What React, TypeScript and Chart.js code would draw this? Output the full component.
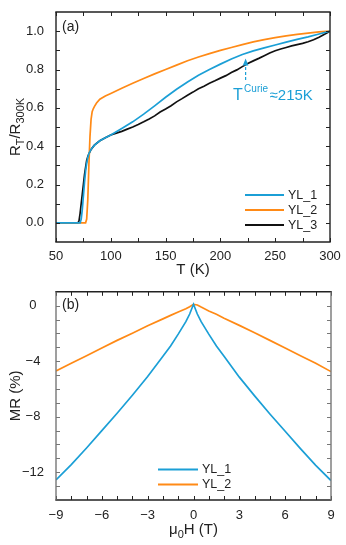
import React, { useEffect, useRef } from 'react';
import { Chart, registerables } from 'chart.js';

Chart.register(...registerables);

const FONT = '"Liberation Sans", Arial, Helvetica, sans-serif';
const BLUE = '#1b9fd6';
const ORANGE = '#ff8a16';
const BLACK = '#111111';

// ---------- panel (a): R_T / R_300K vs T ----------
const tempYL1 = [50, 60, 70, 71, 72, 73, 74, 75, 76, 77, 78, 79, 80, 81, 82, 83, 84, 85, 87, 90, 95, 100,
  110, 120, 130, 140, 150, 160, 170, 180, 190, 200, 210, 220, 230, 240, 250, 260, 270, 280, 290, 300];
const ratioYL1 = [0, 0, 0, 0, 0.0, 0.02, 0.07, 0.14, 0.21, 0.27, 0.31, 0.34, 0.36, 0.373, 0.383, 0.391, 0.398, 0.404, 0.415, 0.428, 0.444, 0.458,
  0.492, 0.527, 0.567, 0.61, 0.655, 0.697, 0.735, 0.77, 0.8, 0.828, 0.855, 0.878, 0.897, 0.913, 0.928, 0.943, 0.957, 0.97, 0.985, 1.0];

const tempYL2 = [50, 60, 70, 75, 77, 78, 79, 80, 81, 82, 83, 84, 85, 87, 90, 95, 100,
  110, 120, 130, 140, 150, 160, 170, 180, 190, 200, 210, 220, 230, 240, 250, 260, 270, 280, 290, 300];
const ratioYL2 = [0, 0, 0, 0, 0, 0.02, 0.12, 0.3, 0.45, 0.54, 0.58, 0.595, 0.606, 0.625, 0.645, 0.662, 0.675,
  0.702, 0.728, 0.753, 0.777, 0.8, 0.823, 0.846, 0.865, 0.883, 0.9, 0.915, 0.93, 0.944, 0.956, 0.966, 0.975, 0.983, 0.99, 0.996, 1.0];

const tempYL3 = [50, 60, 70, 71, 72, 73, 74, 75, 76, 77, 78, 79, 80, 82, 85, 90, 95, 100,
  105, 110, 115, 120, 125, 130, 135, 140, 145, 150, 155, 160, 165, 170, 175, 180, 185, 190, 195, 200,
  205, 210, 215, 220, 225, 230, 235, 240, 245, 250, 255, 260, 265, 270, 275, 280, 285, 290, 295, 300];
const ratioYL3 = [0, 0, 0, 0.01, 0.05, 0.1, 0.15, 0.2, 0.25, 0.29, 0.325, 0.345, 0.36, 0.383, 0.405, 0.428, 0.444, 0.458,
  0.468, 0.477, 0.489, 0.5, 0.513, 0.527, 0.542, 0.558, 0.578, 0.594, 0.611, 0.631, 0.648, 0.666, 0.682, 0.699, 0.713, 0.728, 0.741, 0.755,
  0.768, 0.784, 0.798, 0.815, 0.831, 0.845, 0.858, 0.872, 0.886, 0.898, 0.907, 0.915, 0.923, 0.93, 0.936, 0.945, 0.955, 0.968, 0.984, 1.0];

const tempTicks = [50, 100, 150, 200, 250, 300];
const tempMarks = [50, 75, 100, 125, 150, 175, 200, 225, 250, 275, 300];
const ratioTicks = [0, 0.2, 0.4, 0.6, 0.8, 1.0];
const ratioMarks = [0, 0.1, 0.2, 0.3, 0.4, 0.5, 0.6, 0.7, 0.8, 0.9, 1.0];
const curieT = 223;
const curieArrow = [0.745, 0.857];

// ---------- panel (b): MR vs field ----------
const fieldB = [-9, -8, -7, -6, -5, -4, -3, -2, -1.5, -1, -0.5, -0.25, 0, 0.25, 0.5, 1, 1.5, 2, 3, 4, 5, 6, 7, 8, 9];
const mrYL1 = [-12.55, -11.45, -10.25, -9.0, -7.75, -6.45, -5.1, -3.65, -2.9, -2.05, -1.15, -0.6, 0.1, -0.6, -1.15, -2.05, -2.9, -3.65, -5.15, -6.5, -7.8, -9.05, -10.3, -11.5, -12.6];
const mrYL2 = [-4.7, -4.15, -3.6, -3.05, -2.5, -1.98, -1.45, -0.95, -0.7, -0.45, -0.22, -0.08, 0.1, 0.05, -0.1, -0.38, -0.62, -0.9, -1.42, -1.95, -2.5, -3.05, -3.6, -4.15, -4.75];

const fieldTicks = [-9, -6, -3, 0, 3, 6, 9];
const fieldMarks = [-9, -8, -7, -6, -5, -4, -3, -2, -1, 0, 1, 2, 3, 4, 5, 6, 7, 8, 9];
const mrTicks = [0, -4, -8, -12];
const mrMarks = [-13, -12, -11, -10, -9, -8, -7, -6, -5, -4, -3, -2, -1, 0];

type Part = { t: string; size: number; dy: number };

function richWidth(ctx: CanvasRenderingContext2D, parts: Part[]) {
  let w = 0;
  for (const p of parts) {
    ctx.font = `${p.size}px ${FONT}`;
    w += ctx.measureText(p.t).width;
  }
  return w;
}
function drawRich(ctx: CanvasRenderingContext2D, parts: Part[], x: number, y: number) {
  let cx = x;
  for (const p of parts) {
    ctx.font = `${p.size}px ${FONT}`;
    ctx.fillText(p.t, cx, y + p.dy);
    cx += ctx.measureText(p.t).width;
  }
}

const framePlugin = {
  id: 'frame',
  afterDraw(chart: any, _args: any, opts: any) {
    const { ctx, chartArea: a, scales } = chart;
    const xs = scales.x, ys = scales.y;
    ctx.save();
    ctx.lineWidth = 1;
    const tl = 4;
    ctx.strokeStyle = opts.hColor;
    ctx.beginPath();
    for (const v of opts.xMarks) {
      const p = Math.round(xs.getPixelForValue(v)) + 0.5;
      ctx.moveTo(p, a.bottom); ctx.lineTo(p, a.bottom - tl);
      ctx.moveTo(p, a.top); ctx.lineTo(p, a.top + tl);
    }
    ctx.stroke();
    ctx.strokeStyle = opts.vColor;
    ctx.beginPath();
    for (const v of opts.yMarks) {
      const p = Math.round(ys.getPixelForValue(v)) + 0.5;
      ctx.moveTo(a.left, p); ctx.lineTo(a.left + tl, p);
      ctx.moveTo(a.right, p); ctx.lineTo(a.right - tl, p);
    }
    ctx.stroke();
    ctx.lineWidth = 1.4;
    ctx.strokeStyle = opts.hColor;
    ctx.beginPath();
    ctx.moveTo(a.left - 0.7, a.top); ctx.lineTo(a.right + 0.7, a.top);
    ctx.moveTo(a.left - 0.7, a.bottom); ctx.lineTo(a.right + 0.7, a.bottom);
    ctx.stroke();
    ctx.strokeStyle = opts.vColor;
    ctx.beginPath();
    ctx.moveTo(a.left, a.top); ctx.lineTo(a.left, a.bottom);
    ctx.moveTo(a.right, a.top); ctx.lineTo(a.right, a.bottom);
    ctx.stroke();

    ctx.fillStyle = '#222';
    ctx.textAlign = 'left';
    ctx.textBaseline = 'alphabetic';
    const cx = (a.left + a.right) / 2 + (opts.xTitleShift || 0);
    const w = richWidth(ctx, opts.xTitle);
    drawRich(ctx, opts.xTitle, cx - w / 2, opts.xTitleY);
    const cy = (a.top + a.bottom) / 2;
    ctx.save();
    ctx.translate(opts.yTitleX, cy);
    ctx.rotate(-Math.PI / 2);
    const wy = richWidth(ctx, opts.yTitle);
    drawRich(ctx, opts.yTitle, -wy / 2, 0);
    ctx.restore();

    ctx.font = `14px ${FONT}`;
    ctx.textBaseline = 'middle';
    ctx.fillText(opts.panel, a.left + 6, a.top + opts.panelDy);

    const lg = opts.legend;
    chart.data.datasets.forEach((ds: any, i: number) => {
      const y = lg.y + i * lg.dy;
      ctx.strokeStyle = ds.borderColor;
      ctx.lineWidth = 1.8;
      ctx.beginPath();
      ctx.moveTo(lg.x0, y); ctx.lineTo(lg.x1, y);
      ctx.stroke();
      ctx.fillStyle = '#222';
      ctx.font = `12.5px ${FONT}`;
      ctx.textBaseline = 'middle';
      ctx.fillText(ds.label, lg.x1 + 4, y + 0.5);
    });

    if (opts.curie) {
      const ax = xs.getPixelForValue(opts.curie.t);
      const yFrom = ys.getPixelForValue(opts.curie.from);
      const yTip = ys.getPixelForValue(opts.curie.to);
      ctx.strokeStyle = BLUE;
      ctx.fillStyle = BLUE;
      ctx.lineWidth = 1.2;
      ctx.setLineDash([3, 2]);
      ctx.beginPath();
      ctx.moveTo(ax, yFrom); ctx.lineTo(ax, yTip + 5);
      ctx.stroke();
      ctx.setLineDash([]);
      ctx.beginPath();
      ctx.moveTo(ax, yTip); ctx.lineTo(ax - 2.8, yTip + 7); ctx.lineTo(ax + 2.8, yTip + 7); ctx.closePath();
      ctx.fill();
      ctx.textBaseline = 'alphabetic';
      ctx.font = `16px ${FONT}`;
      ctx.fillText('T', ax - 12.5, yFrom + 19.5);
      ctx.font = `10px ${FONT}`;
      ctx.fillText('Curie', ax - 1.5, yFrom + 11.5);
      ctx.font = `15px ${FONT}`;
      ctx.fillText('≈215K', ax + 24, yFrom + 19.5);
    }
    ctx.restore();
  },
};

function pts(xs: number[], ys: number[]) {
  return xs.map((x, i) => ({ x, y: ys[i] }));
}

const tickFont = { family: FONT, size: 13 };
const fmtMinus = (v: number) => (v < 0 ? '\u2212' + Math.abs(v) : String(v));

export default function App() {
  const refA = useRef<HTMLCanvasElement>(null);
  const refB = useRef<HTMLCanvasElement>(null);

  useEffect(() => {
    const lineDs = (label: string, color: string, data: any[]) => ({
      label, data, borderColor: color, backgroundColor: color, borderWidth: 1.7,
      pointRadius: 0, tension: 0, fill: false,
    });

    const chartA = new Chart(refA.current!, {
      type: 'line',
      data: {
        datasets: [
          lineDs('YL_1', BLUE, pts(tempYL1, ratioYL1)),
          lineDs('YL_2', ORANGE, pts(tempYL2, ratioYL2)),
          lineDs('YL_3', BLACK, pts(tempYL3, ratioYL3)),
        ],
      },
      options: {
        responsive: false,
        animation: false,
        events: [],
        layout: { padding: { left: 0, top: 12, right: 16, bottom: 0 } },
        scales: {
          x: {
            type: 'linear', min: 50, max: 300,
            grid: { display: false }, border: { display: false },
            afterBuildTicks: (s: any) => { s.ticks = tempTicks.map((v) => ({ value: v })); },
            afterFit: (s: any) => { s.height = 38; },
            ticks: { font: tickFont, color: '#222', padding: -1, maxRotation: 0, autoSkip: false, callback: (v: any) => String(v) },
          },
          y: {
            type: 'linear', min: -0.1, max: 1.1,
            grid: { display: false }, border: { display: false },
            afterBuildTicks: (s: any) => { s.ticks = ratioTicks.map((v) => ({ value: v })); },
            afterFit: (s: any) => { s.width = 56; },
            ticks: { font: tickFont, color: '#222', padding: 4, autoSkip: false, callback: (v: any) => Number(v).toFixed(1) },
          },
        },
        plugins: {
          legend: { display: false },
          tooltip: { enabled: false },
          frame: {
            hColor: '#222', vColor: '#222',
            xMarks: tempMarks, yMarks: ratioMarks,
            xTitle: [{ t: 'T (K)', size: 15, dy: 0 }], xTitleY: 274,
            yTitle: [
              { t: 'R', size: 15, dy: 0 }, { t: 'T', size: 11, dy: 4 },
              { t: '/R', size: 15, dy: 0 }, { t: '300K', size: 11, dy: 4 },
            ],
            yTitleX: 19.5,
            panel: '(a)', panelDy: 15,
            legend: { x0: 245, x1: 284, y: 195, dy: 15 },
            curie: { t: curieT, from: curieArrow[0], to: curieArrow[1] },
          },
        } as any,
      },
      plugins: [framePlugin],
    } as any);

    const chartB = new Chart(refB.current!, {
      type: 'line',
      data: {
        datasets: [
          lineDs('YL_1', BLUE, pts(fieldB, mrYL1)),
          lineDs('YL_2', ORANGE, pts(fieldB, mrYL2)),
        ],
      },
      options: {
        responsive: false,
        animation: false,
        events: [],
        layout: { padding: { left: 0, top: 2, right: 15, bottom: 0 } },
        scales: {
          x: {
            type: 'linear', min: -9, max: 9,
            grid: { display: false }, border: { display: false },
            afterBuildTicks: (s: any) => { s.ticks = fieldTicks.map((v) => ({ value: v })); },
            afterFit: (s: any) => { s.height = 45; },
            ticks: { font: tickFont, color: '#222', padding: 0, maxRotation: 0, autoSkip: false, callback: (v: any) => fmtMinus(Number(v)) },
          },
          y: {
            type: 'linear', min: -14, max: 1,
            grid: { display: false }, border: { display: false },
            afterBuildTicks: (s: any) => { s.ticks = mrTicks.map((v) => ({ value: v })); },
            afterFit: (s: any) => { s.width = 56; },
            ticks: { font: tickFont, color: '#222', padding: 4, crossAlign: 'center', autoSkip: false, callback: (v: any) => fmtMinus(Number(v)) },
          },
        },
        plugins: {
          legend: { display: false },
          tooltip: { enabled: false },
          frame: {
            hColor: '#222', vColor: '#777',
            xMarks: fieldMarks, yMarks: mrMarks,
            xTitle: [{ t: 'μ', size: 15, dy: 0 }, { t: '0', size: 11, dy: 4 }, { t: 'H (T)', size: 15, dy: 0 }],
            xTitleY: 254, xTitleShift: 0,
            yTitle: [{ t: 'MR (%)', size: 15, dy: 0 }],
            yTitleX: 19.5,
            panel: '(b)', panelDy: 13,
            legend: { x0: 158, x1: 198, y: 189.5, dy: 15 },
          },
        } as any,
      },
      plugins: [framePlugin],
    } as any);

    return () => { chartA.destroy(); chartB.destroy(); };
  }, []);

  return (
    <div style={{ position: 'absolute', left: 0, top: 0, width: 346, height: 545, background: '#fff' }}>
      <canvas ref={refA} width={346} height={280} style={{ position: 'absolute', left: 0, top: 0, width: 346, height: 280 }} />
      <canvas ref={refB} width={346} height={265} style={{ position: 'absolute', left: 0, top: 280, width: 346, height: 265 }} />
    </div>
  );
}
